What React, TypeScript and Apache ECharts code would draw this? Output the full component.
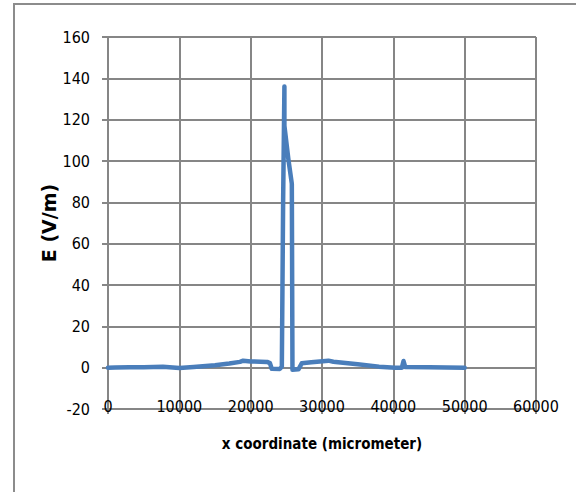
import React, { useEffect, useRef } from "react";
import * as echarts from "echarts";

const xCoords: number[] = [
  0, 1000, 3000, 5000, 7700, 10000, 12000, 15000, 17000, 18500, 18950, 20000,
  22300, 22700, 22950, 24100, 24370, 24550, 24730, 24730, 25300, 25770, 25860,
  26700, 27160, 28500, 30900, 31600, 35000, 38000, 40270, 41200, 41430, 41670,
  45000, 50000,
];
const eField: number[] = [
  0, 0.1, 0.2, 0.2, 0.4, -0.2, 0.3, 1.2, 2.0, 2.8, 3.4, 3.0,
  2.8, 2.2, -0.5, -0.6, 0.5, 80, 136, 117, 100.5, 89, -1,
  -0.8, 2.1, 2.6, 3.4, 2.9, 1.6, 0.5, 0, 0, 3.2, 0.3,
  0.2, 0,
];
const xTitle = "x coordinate (micrometer)";
const yTitle = "E (V/m)";

const GRID = "#868686";
const LINE = "#4a7ebb";
const NARROW = "'DejaVu Sans Condensed', 'DejaVu Sans', sans-serif";

export default function App() {
  const ref = useRef<HTMLDivElement>(null);
  useEffect(() => {
    if (!ref.current) return;
    const chart = echarts.init(ref.current, undefined, { renderer: "svg" });
    const data = xCoords.map((x, i) => [x, eField[i]]);
    chart.setOption({
      animation: false,
      backgroundColor: "#ffffff",
      graphic: [
        {
          type: "rect",
          shape: { x: 14, y: 4, width: 700, height: 700 },
          style: { fill: "none", stroke: "#8c8c8c", lineWidth: 2 },
          silent: true,
        },
      ],
      grid: { left: 108, right: 40, top: 37, bottom: 83, containLabel: false },
      xAxis: {
        type: "value",
        min: 0,
        max: 60000,
        interval: 10000,
        name: xTitle,
        nameLocation: "middle",
        nameGap: 27,
        nameMoveOverlap: false,
        nameTextStyle: {
          fontFamily: NARROW,
          fontWeight: "bold",
          fontSize: 15,
          color: "#000",
        },
        axisLine: { show: true, onZero: false, lineStyle: { color: GRID, width: 2 } },
        axisTick: { show: true, length: 5, lineStyle: { color: GRID, width: 2 } },
        axisLabel: {
          fontFamily: NARROW,
          fontSize: 16,
          color: "#000",
          margin: -3,
          verticalAlign: "middle",
          formatter: (v: number) => String(v),
        },
        splitLine: { show: true, lineStyle: { color: GRID, width: 2 } },
      },
      yAxis: {
        type: "value",
        min: -20,
        max: 160,
        interval: 20,
        name: yTitle,
        nameLocation: "middle",
        nameGap: 59,
        nameMoveOverlap: false,
        nameRotate: 90,
        nameTextStyle: {
          fontFamily: "'DejaVu Sans', sans-serif",
          fontWeight: "bold",
          fontSize: 19,
          color: "#000",
          verticalAlign: "middle",
        },
        axisLine: { show: true, lineStyle: { color: GRID, width: 2 } },
        axisTick: { show: true, length: 6, lineStyle: { color: GRID, width: 2 } },
        axisLabel: {
          fontFamily: NARROW,
          fontSize: 16,
          color: "#000",
          margin: 18,
        },
        splitLine: { show: true, lineStyle: { color: GRID, width: 2 } },
      },
      series: [
        {
          type: "line",
          data,
          showSymbol: false,
          symbol: "none",
          lineStyle: { color: LINE, width: 4.5, join: "round", cap: "round" },
          itemStyle: { color: LINE },
        },
      ],
    });
    return () => chart.dispose();
  }, []);
  return (
    <div
      ref={ref}
      style={{ position: "fixed", left: 0, top: 0, width: 576, height: 492 }}
    />
  );
}
